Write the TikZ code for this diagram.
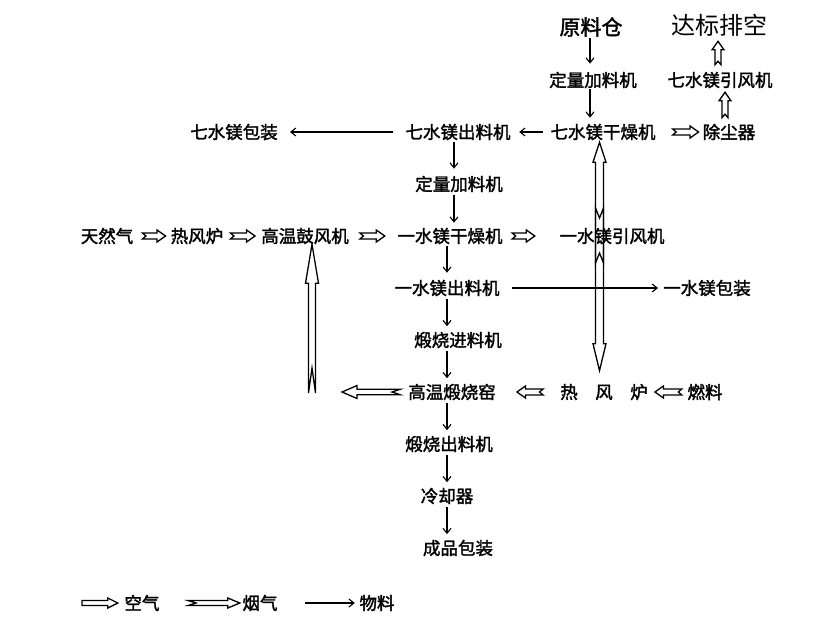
\documentclass[tikz,border=0pt]{standalone}
\usepackage{fontspec}
\newfontfamily\cjk[FakeBold=1.8]{Noto Sans CJK SC}
\newfontfamily\cjkl{Noto Sans CJK SC}
\usetikzlibrary{arrows.meta,calc}
% block arrow: #1 tail, #2 tip, #3 shaft half width, #4 head half width, #5 head length, #6 notch depth
\newcommand\barr[6]{%
  \path let \p1=#1, \p2=#2, \n1={atan2(\y2-\y1,\x2-\x1)}, \n2={veclen(\x2-\x1,\y2-\y1)} in
    \pgfextra{\pgfmathparse{\n1}\xdef\baang{\pgfmathresult}\xdef\balen{\n2}};
  \draw[blockline, shift={#1}, rotate=\baang] (0pt,#3) -- ({\balen-#5},#3) -- ({\balen-#5},#4) -- (\balen,0pt)
    -- ({\balen-#5},-#4) -- ({\balen-#5},-#3) -- (0pt,-#3) -- (#6,0pt) -- cycle;
}
\newcommand\smallarr[2]{\barr{#1}{#2}{3pt}{6pt}{8.5pt}{3.5pt}}
\tikzset{
  txt/.style={font=\cjk\fontsize{17.5}{20}\selectfont, inner sep=0pt, anchor=center},
  blockline/.style={draw=black, line width=1.3pt, line join=miter},
  mat/.style={draw=black, line width=1.1pt, -{Straight Barb[length=5pt,width=8pt]}},
}
\begin{document}
\begin{tikzpicture}[x=1pt,y=-1pt]
\useasboundingbox[fill=white] (0,0) rectangle (836,641);
% nodes
\node[txt, font=\cjk\fontsize{21}{24}\selectfont] (ylc) at (591,27) {原料仓};
\node[txt, font=\cjkl\fontsize{24}{28}\selectfont] (dbpk) at (719,25) {达标排空};
\node[txt] (dl1) at (593,80) {定量加料机};
\node[txt] (yfj7) at (720,80) {七水镁引风机};
\node[txt] (gz7) at (603,132) {七水镁干燥机};
\node[txt] (ccq) at (729,132) {除尘器};
\node[txt] (bz7) at (234,132) {七水镁包装};
\node[txt] (cl7) at (458,132) {七水镁出料机};
\node[txt] (dl2) at (459,184) {定量加料机};
\node[txt] (trq) at (107,236) {天然气};
\node[txt] (rfl1) at (197,236) {热风炉};
\node[txt] (gwg) at (305,236) {高温鼓风机};
\node[txt] (gz1) at (450,236) {一水镁干燥机};
\node[txt] (yfj1) at (612,236) {一水镁引风机};
\node[txt] (cl1) at (447,288) {一水镁出料机};
\node[txt] (bz1) at (707,288) {一水镁包装};
\node[txt] (dsj) at (458,340) {煅烧进料机};
\node[txt] (yao) at (452,392) {高温煅烧窑};
\node[txt] (rfl2) at (604,392) {热\quad 风\quad 炉};
\node[txt] (rl) at (705,392) {燃料};
\node[txt] (dcl) at (449,444) {煅烧出料机};
\node[txt] (lqq) at (447,496) {冷却器};
\node[txt] (cpbz) at (458,548) {成品包装};
\node[txt] (kq) at (142,603) {空气};
\node[txt] (yq) at (260,603) {烟气};
\node[txt] (wl) at (377,603) {物料};
% column coordinates and free ends
\coordinate (colA) at (590,0);
\coordinate (colU) at (454,0);
\coordinate (colL) at (447,0);
\coordinate (leftend) at (342,392);
\coordinate (uptail) at (312,393);
\coordinate (lgA) at (82,603);
\coordinate (lgS) at (188,603);
\coordinate (lgM) at (305,603);
% material arrows
\draw[mat, shorten <=1pt, shorten >=8pt] (ylc.south -| colA) -- (dl1.north -| colA);
\draw[mat, shorten <=1pt, shorten >=6pt] (dl1.south -| colA) -- (gz7.north -| colA);
\draw[mat, shorten <=7.5pt, shorten >=8.5pt] (gz7.west) -- (cl7.east);
\draw[mat, shorten <=12.5pt, shorten >=12pt] (cl7.west) -- (bz7.east);
\draw[mat, shorten <=2pt, shorten >=7pt] (cl7.south -| colU) -- (dl2.north -| colU);
\draw[mat, shorten <=3pt, shorten >=5pt] (dl2.south -| colU) -- (gz1.north -| colU);
\draw[mat, shorten <=2pt, shorten >=7pt] (gz1.south -| colL) -- (cl1.north -| colL);
\draw[mat, shorten <=12.5pt, shorten >=5pt] (cl1.east) -- (bz1.west);
\draw[mat, shorten <=3pt, shorten >=5.5pt] (cl1.south -| colL) -- (dsj.north -| colL);
\draw[mat, shorten <=3pt, shorten >=5.5pt] (dsj.south -| colL) -- (yao.north -| colL);
\draw[mat, shorten <=3pt, shorten >=5.5pt] (yao.south -| colL) -- (dcl.north -| colL);
\draw[mat, shorten <=3pt, shorten >=5.5pt] (dcl.south -| colL) -- (lqq.north -| colL);
\draw[mat, shorten <=3pt, shorten >=5.5pt] (lqq.south -| colL) -- (cpbz.north -| colL);
\draw[mat] (lgM) -- ([xshift=-4.5pt]wl.west);
% gas arrows
\smallarr{([xshift=17pt]gz7.east)}{([xshift=-4pt]ccq.west)}
\smallarr{([xshift=-4pt,yshift=6pt]ccq.north)}{([xshift=5pt,yshift=-4pt]yfj7.south)}
\smallarr{([xshift=-2pt,yshift=7pt]yfj7.north)}{([xshift=-1pt,yshift=-5pt]dbpk.south)}
\smallarr{([xshift=9pt]trq.east)}{([xshift=-5pt]rfl1.west)}
\smallarr{([xshift=7pt]rfl1.east)}{([xshift=-6pt]gwg.west)}
\smallarr{([xshift=11pt]gwg.east)}{([xshift=-12.5pt]gz1.west)}
\smallarr{([xshift=9.5pt]gz1.east)}{([xshift=-24.5pt]yfj1.west)}
\smallarr{([xshift=-17pt]rfl2.west)}{([xshift=21pt]yao.east)}
\smallarr{([xshift=-5.5pt]rl.west)}{([xshift=7pt]rfl2.east)}
\barr{([xshift=-8pt]yao.west)}{(leftend)}{2.7pt}{6.5pt}{15pt}{8pt}
\barr{(uptail)}{([xshift=7pt]gwg.south)}{3.5pt}{6.5pt}{39pt}{25pt}
\barr{([xshift=-12.5pt,yshift=28pt]yfj1.center)}{([xshift=-4.5pt,yshift=13pt]rfl2.north)}{4pt}{6.5pt}{27pt}{10pt}
\barr{([xshift=-12.5pt,yshift=-27pt]yfj1.center)}{([xshift=-3.5pt,yshift=-2pt]gz7.south)}{4pt}{6.5pt}{20pt}{10pt}
% legend
\barr{(lgA)}{([xshift=-6.5pt]kq.west)}{2.5pt}{5pt}{10pt}{0pt}
\barr{(lgS)}{([xshift=-2.5pt]yq.west)}{2.5pt}{5pt}{12pt}{8pt}
\end{tikzpicture}
\end{document}
